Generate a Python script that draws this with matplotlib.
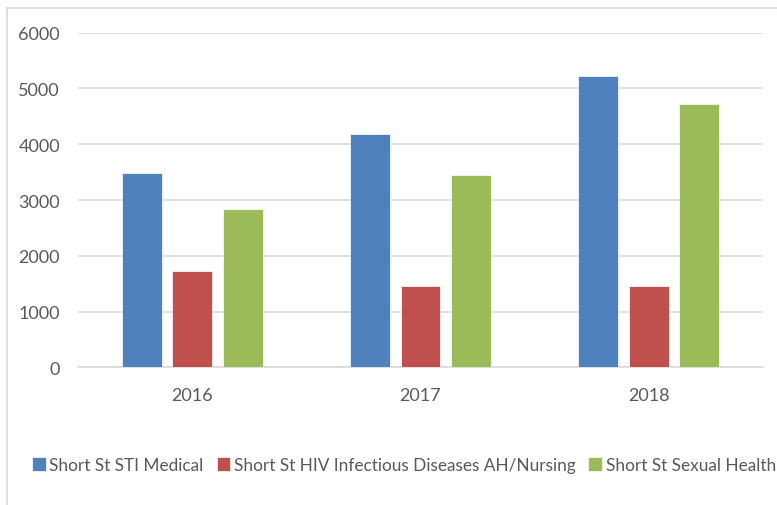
import numpy as np
import matplotlib
matplotlib.use("Agg")
import matplotlib.pyplot as plt
from matplotlib.lines import Line2D

# data
years = ["2016", "2017", "2018"]
series_names = ["Short St STI Medical",
                "Short St HIV Infectious Diseases AH/Nursing",
                "Short St Sexual Health"]
sti_medical = [3490, 4180, 5220]
hiv_nursing = [1720, 1465, 1465]
sexual_health = [2830, 3450, 4720]
colors = ["#4F81BD", "#C0504D", "#9BBB59"]

plt.rcParams['font.family'] = ['Lato', 'DejaVu Sans']
txt = "#595959"
grid = "#D9D9D9"

fig = plt.figure(figsize=(7.77, 5.06), dpi=100)
ax = fig.add_axes([0.1004, 0.2721, 0.8816, 0.6613])

x = np.arange(len(years))
w = 0.175
step = 0.221
for i, (vals, name) in enumerate(zip([sti_medical, hiv_nursing, sexual_health], series_names)):
    ax.bar(x + (i - 1) * step, vals, width=w, color=colors[i], label=name,
           edgecolor="white", linewidth=0.5, zorder=3)

ax.set_xlim(-0.5, 2.5)
ax.set_ylim(0, 6000)
ax.set_yticks(np.arange(0, 6001, 1000))
ax.set_xticks(x)
ax.set_xticklabels(years)
ax.yaxis.grid(True, color=grid, linewidth=1.2, zorder=0)
for s in ["top", "right", "left"]:
    ax.spines[s].set_visible(False)
ax.spines["bottom"].set_color(grid)
ax.spines["bottom"].set_linewidth(1.2)
ax.tick_params(length=0, colors=txt, labelsize=13)
ax.tick_params(axis="y", pad=13)
ax.tick_params(axis="x", pad=14)

leg = fig.legend(loc="center", bbox_to_anchor=(0.52, 0.079), ncol=3, frameon=False,
                 fontsize=12.4, handlelength=0.8, handleheight=0.8, handletextpad=0.2,
                 columnspacing=0.75, labelcolor=txt)

# outer chart frame
fig.add_artist(Line2D([7 / 777, 1], [1 - 9 / 506, 1 - 9 / 506], color=grid, lw=1.2))
fig.add_artist(Line2D([7 / 777, 7 / 777], [0, 1 - 9 / 506], color=grid, lw=1.2))

fig.savefig("out.png", dpi=100)
